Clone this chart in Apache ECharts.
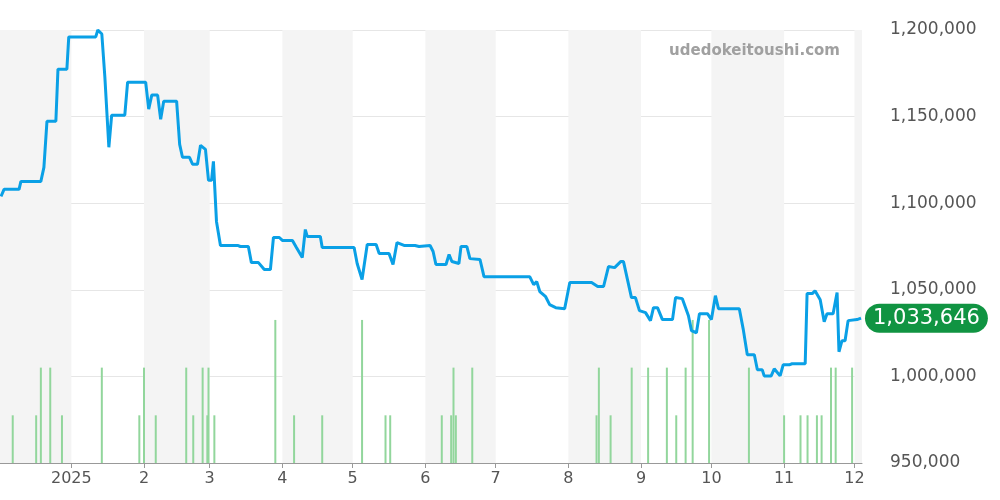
<!DOCTYPE html>
<html><head><meta charset="utf-8">
<script src="https://cdn.jsdelivr.net/npm/echarts@6/dist/echarts.min.js"></script>
<style>html,body{margin:0;padding:0;background:#fff}#c{width:1000px;height:500px}</style>
</head><body><div id="c"></div>
<script>
// days since 2024-12-02
const priceDays = [0,1.3,7.7,8.5,17,18.3,19.6,23.4,24.3,28.1,28.9,40.4,41.3,43,44.3,46,47.2,52.8,54,61.7,63,64.3,66.8,68.1,69.4,74.9,76.2,77.4,80.4,81.7,83.8,85.1,87.2,88.5,89.8,90.6,91.9,93.6,100.9,102.1,105.5,106.8,109.8,112.3,114.9,116.2,118.7,120,124.3,126,128.5,129.8,130.6,136.2,137,150.6,151.9,154,156.2,160,161.3,165.5,167.2,168.9,171.9,176.6,178.3,183,184.3,185.5,189.8,191.1,192.3,195.3,196.2,198.7,200,204.3,206,225.5,227.2,228.5,229.8,232.3,234,236.6,240.4,242.6,251.9,254.5,257,259.1,261.7,264.3,265.5,267.2,268.9,270.6,272.3,274.9,277,278.3,280,282.1,286.4,287.7,290.6,293.2,294.5,296.6,297.9,301.3,303,304.7,306,314.9,316.6,318.3,321.3,322.6,324.7,325.5,328.5,329.8,332.3,333.6,336.2,337.4,343,343.8,346,347.2,349.4,351.1,352.3,354.9,356.6,357.4,358.7,360,361.3,365.1,366.8];
const priceK = [1103.9,1108,1108,1112.6,1112.6,1120.7,1147.3,1147.3,1177.4,1177.4,1196,1196,1200,1197.7,1172.8,1132.3,1150.8,1150.8,1169.9,1169.9,1154.3,1162.4,1162.4,1148.5,1158.9,1158.9,1134,1126.5,1126.5,1122.5,1122.5,1133.4,1131.1,1113.2,1113.2,1124.2,1089.5,1075.6,1075.6,1075,1075,1065.7,1065.7,1061.7,1061.7,1080.2,1080.2,1078.5,1078.5,1074.4,1068.6,1084.8,1080.8,1080.8,1074.4,1074.4,1065.2,1055.9,1076.2,1076.2,1071,1071,1064.6,1077.3,1075.6,1075.6,1075,1075.6,1072.1,1064.6,1064.6,1070.4,1066.3,1065.2,1075,1075,1068,1067.5,1057.6,1057.6,1053,1054.7,1049,1046,1041.4,1039.7,1039.1,1054.2,1054.2,1051.9,1051.9,1063.4,1062.8,1066.3,1066.3,1055.9,1045.5,1045.5,1038,1036.8,1032.2,1039.7,1039.7,1032.8,1032.8,1045.5,1044.9,1035,1026.4,1025.2,1036.2,1036.2,1032.8,1046.6,1039.1,1039.1,1027,1012.5,1012.5,1003.8,1003.8,1000.3,1000.3,1004.4,1000.3,1006.7,1006.7,1007.3,1007.3,1047.8,1047.8,1049.5,1044.3,1031.6,1036.2,1036.2,1048.4,1014.2,1020.6,1020.6,1032.2,1032.8,1033.646];
const volDays = [5,15,17,21,26,43,59,61,66,79,82,86,88,88.5,91,117,125,137,154,164,166,188,192,193,194,201,254,255,260,269,276,284,288,292,295,302,319,334,341,344,348,350,354,356,363];
const volVals = [1,1,2,2,1,2,1,2,1,2,1,2,1,2,1,3,1,1,3,1,1,1,1,2,1,2,1,2,1,2,2,2,1,2,3,3,2,1,1,1,1,1,2,2,2];
const shadedMonths = [["2024-12-01","2025-01-01"],["2025-02-01","2025-03-01"],["2025-04-01","2025-05-01"],["2025-06-01","2025-07-01"],["2025-08-01","2025-09-01"],["2025-10-01","2025-11-01"],["2025-12-01","2026-01-01"]];
const start = Date.UTC(2024,11,2), DAY = 86400000;
const t = d => start + d*DAY;
const priceData = priceDays.map((d,i)=>[t(d), Math.round(priceK[i]*1000)]);
const volData = volDays.map((d,i)=>[t(d), volVals[i]]);
const chart = echarts.init(document.getElementById('c'));
chart.setOption({
  animation:false,
  grid:{left:0,right:138,top:30,bottom:37},
  graphic:[{type:'text',right:160,top:44,z:100,style:{text:'udedokeitoushi.com',fill:'#a0a0a0',font:'bold 15px "DejaVu Sans"'}}],
  xAxis:{type:'time',min:t(0),max:t(366.8),minInterval:28*DAY,maxInterval:31*DAY,
    axisLine:{show:true,lineStyle:{color:'#999'}},axisTick:{show:true,lineStyle:{color:'#999'}},splitLine:{show:false},
    axisLabel:{color:'#555',fontSize:16,fontFamily:'DejaVu Sans',formatter:v=>{const d=new Date(v);return d.getMonth()===0?String(d.getFullYear()):String(d.getMonth()+1);}}},
  yAxis:[{type:'value',position:'right',min:950000,max:1200000,interval:50000,
    axisLine:{show:false},axisTick:{show:false},splitLine:{lineStyle:{color:'#e6e6e6'}},
    axisLabel:{color:'#555',fontSize:17,fontFamily:'DejaVu Sans',margin:28,formatter:v=>v.toLocaleString('en-US')}},
   {type:'value',min:0,max:9.08,show:false}],
  series:[
   {type:'bar',yAxisIndex:1,data:volData,barWidth:2,itemStyle:{color:'#92d69c'},silent:true},
   {type:'line',data:priceData,symbol:'none',lineStyle:{color:'#0aa0e6',width:3},z:5,
    markArea:{silent:true,itemStyle:{color:'#f4f4f4'},data:shadedMonths.map(m=>[{xAxis:m[0]},{xAxis:m[1]}])},
    endLabel:{show:true,formatter:p=>p.value[1].toLocaleString('en-US'),color:'#fff',fontSize:21,fontFamily:'DejaVu Sans',
      backgroundColor:'#109442',borderRadius:15,padding:[4,8,4,8],distance:4}}
  ]
});
</script></body></html>
